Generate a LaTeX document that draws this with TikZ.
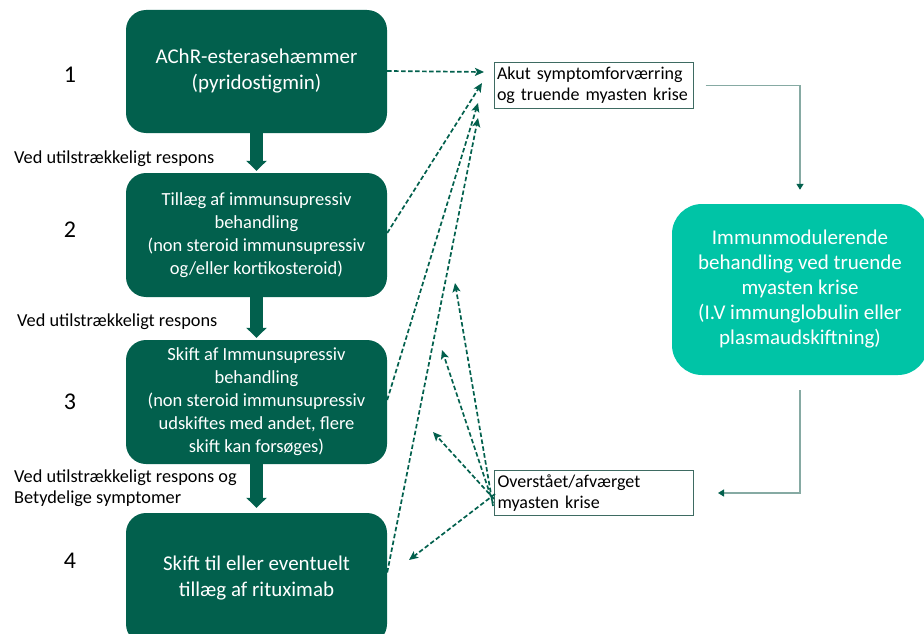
\documentclass[tikz,border=0pt]{standalone}
\usepackage{fontspec}
\setmainfont{Carlito}
\usetikzlibrary{arrows.meta,calc}
\definecolor{dkgreen}{HTML}{02604D}
\definecolor{teal2}{HTML}{00C4A6}
\definecolor{grayline}{HTML}{86AAA3}
\definecolor{boxline}{HTML}{3E6B62}
\tikzset{
  x=1pt,y=-1pt,
  greenbox/.style={draw=none,fill=dkgreen,rounded corners=20pt,minimum width=261pt,text=white,align=center,inner sep=0pt},
  tealbox/.style={draw=none,fill=teal2,rounded corners=30pt,minimum width=256pt,minimum height=171pt,text=white,align=center,inner sep=0pt},
  outbox/.style={draw=boxline,line width=1pt,fill=white,minimum width=199pt,minimum height=45pt,align=left,text width=193pt,inner xsep=3pt,inner ysep=0pt},
  bigarrow/.style={draw=dkgreen,line width=13pt,-{Triangle[width=20pt,length=10pt]}},
  dasharrow/.style={draw=dkgreen,line width=1.7pt,dash pattern=on 4.5pt off 2.5pt,-{Stealth[width=8pt,length=9pt,inset=2pt]}},
  grayarrow/.style={draw=grayline,line width=1.3pt,-{Triangle[width=7pt,length=6pt,color=dkgreen]}},
  numlabel/.style={font=\fontsize{24}{28}\selectfont},
  sidelabel/.style={font=\fontsize{18.3}{21}\selectfont,align=left,anchor=west,inner sep=0pt},
}
\begin{document}
\begin{tikzpicture}
\useasboundingbox (0,0) rectangle (924,634);
% main green boxes
\node[greenbox,minimum height=123pt,font=\fontsize{21}{26}\selectfont] (b1) at (256.5,71.5) {AChR-esterasehæmmer\\(pyridostigmin)};
\node[greenbox,minimum height=124pt,font=\fontsize{18.5}{23}\selectfont] (b2) at (256.5,235) {Tillæg af immunsupressiv\\behandling\\(non steroid immunsupressiv\\og/eller kortikosteroid)};
\node[greenbox,minimum height=124pt,font=\fontsize{18.5}{23}\selectfont] (b3) at (256.5,402) {Skift af Immunsupressiv\\behandling\\(non steroid immunsupressiv\\udskiftes med andet, flere\\skift kan forsøges)};
\node[greenbox,minimum height=131pt,font=\fontsize{21}{26}\selectfont] (b4) at (256.5,578.5) {Skift til eller eventuelt\\tillæg af rituximab};
% numbers
\node[numlabel] (n1) at (70,75) {1};
\node[numlabel] (n2) at (70,230) {2};
\node[numlabel] (n3) at (70,402) {3};
\node[numlabel] (n4) at (70,561) {4};
% side labels
\node[sidelabel] (l1) at (14,159) {Ved utilstrækkeligt respons};
\node[sidelabel] (l2) at (17,322) {Ved utilstrækkeligt respons};
\node[sidelabel] (l3) at (14,488.5) {Ved utilstrækkeligt respons og\\Betydelige symptomer};
% thick arrows
\draw[bigarrow,shorten >=2pt] (b1.south) -- (b2.north);
\draw[bigarrow,shorten >=2pt] (b2.south) -- (b3.north);
\draw[bigarrow,shorten >=5pt] (b3.south) -- (b4.north);
% right boxes
\node[outbox,font=\fontsize{18}{21}\selectfont] (ak) at (593.5,85.5) {Akut symptomforværring\\og truende myasten krise};
\node[outbox,font=\fontsize{18}{21}\selectfont] (ov) at (594,493) {Overstået/afværget\\myasten krise};
\node[tealbox,font=\fontsize{21}{25}\selectfont] (tb) at (800,289.5) {Immunmodulerende\\behandling ved truende\\myasten krise\\(I.V immunglobulin eller\\plasmaudskiftning)};
% gray connectors
\draw[grayarrow,shorten <=12pt,shorten >=14pt] (ak.east) -| (tb.north);
\draw[grayarrow,shorten <=15pt,shorten >=24pt] (tb.south) |- (ov.east);
% dashed arrows to Akut
\coordinate (a1) at (484,72);
\coordinate (a2) at (482,83);
\coordinate (a3) at (478,103);
\coordinate (a4) at (478,118);
\draw[dasharrow] ([yshift=0.5pt]b1.east) -- (a1);
\draw[dasharrow] ([yshift=2pt]b2.east) -- (a2);
\draw[dasharrow] ([yshift=2pt]b3.east) -- (a3);
\draw[dasharrow] ([yshift=6pt]b4.east) -- (a4);
% dashed arrows from Overstaaet
\coordinate (c1) at (455,283);
\coordinate (c2) at (442,350);
\coordinate (c3) at (433,432);
\coordinate (c4) at (409,560);
\draw[dasharrow] ([xshift=-1pt,yshift=-13pt]ov.west) -- (c1);
\draw[dasharrow] ([xshift=-1pt,yshift=-10pt]ov.west) -- (c2);
\draw[dasharrow] ([xshift=0pt,yshift=-6pt]ov.west) -- (c3);
\draw[dasharrow] ([xshift=1pt,yshift=-1pt]ov.west) -- (c4);
\end{tikzpicture}
\end{document}
